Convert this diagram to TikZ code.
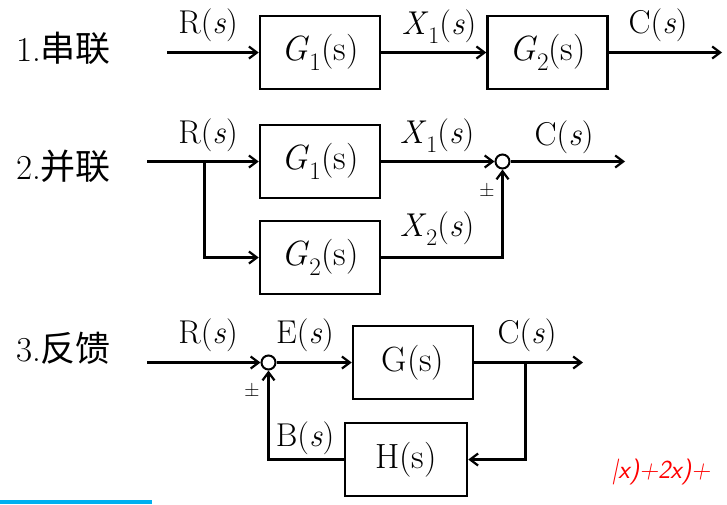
\documentclass[tikz,border=0pt]{standalone}
\usepackage{fontspec}
\newfontfamily\cjk{Noto Sans CJK SC}
\usetikzlibrary{arrows.meta}
\definecolor{barblue}{RGB}{0,176,240}
\newcommand{\sub}[1]{\raisebox{-0.28em}{\fontsize{0.72em}{0.8em}\selectfont #1}}

\begin{document}
\begin{tikzpicture}[x=1pt,y=-1pt,line width=2.2pt,
  >={Straight Barb[length=8pt,width=12pt]},
  blk/.style={draw,line width=2.5pt,minimum width=120pt,minimum height=73pt,inner sep=0pt,font=\fontsize{35}{37}\selectfont},
  sig/.style={inner sep=0pt,font=\fontsize{33}{35}\selectfont},
  sum/.style={draw,circle,line width=2pt,minimum size=14pt,inner sep=0pt},
  pm/.style={inner sep=0pt,font=\fontsize{21}{23}\selectfont},
  ttl/.style={anchor=west,inner sep=0pt,font=\fontsize{35}{37}\selectfont}]
  \useasboundingbox (0,0) rectangle (727,504);

  % 1. series
  \node[ttl] (T1) at (15,48) {1.{\cjk 串联}};
  \coordinate (A1) at (167,52.5);
  \node[blk] (G11) at (320,52.5) {\textit{G}\sub{1}(s)};
  \node[blk] (G12) at (547.5,52.5) {\textit{G}\sub{2}(s)};
  \coordinate (B1) at (722,52.5);
  \node[sig] (R1) at (208,25) {R(\textit{s})};
  \node[sig] (X11) at (439,27) {\textit{X}\sub{1}(\textit{s})};
  \node[sig] (C1) at (658,25) {C(\textit{s})};

  \path[->] (A1) edge (G11);
  \path[->] (G11) edge (G12);
  \path[->] (G12) edge (B1);

  % 2. parallel
  \node[ttl] (T2) at (15,166) {2.{\cjk 并联}};
  \coordinate (A2) at (147,161.5);
  \coordinate (D2) at (204.5,161.5);
  \node[blk] (G21) at (320,161.5) {\textit{G}\sub{1}(s)};
  \node[blk] (G22) at (320,257.5) {\textit{G}\sub{2}(s)};
  \node[sum] (S2) at (502.5,161.5) {};
  \coordinate (B2) at (625,161.5);
  \node[sig] (R2) at (208,135) {R(\textit{s})};
  \node[sig] (X21) at (437,136) {\textit{X}\sub{1}(\textit{s})};
  \node[sig] (X22) at (437,229) {\textit{X}\sub{2}(\textit{s})};
  \node[sig] (C2) at (564,137) {C(\textit{s})};
  \node[pm] (P2) at (487,190) {±};

  \path[->] (A2) edge (G21);
  \draw[->] (D2) |- (G22);
  \path[->] (G21) edge (S2);
  \draw[->] (G22) -| (S2);
  \path[->] (S2) edge (B2);

  % 3. feedback
  \node[ttl] (T3) at (15,348) {3.{\cjk 反馈}};
  \coordinate (A3) at (147,362.5);
  \node[sum] (S3) at (268.5,362.5) {};
  \node[blk] (G3) at (413,362.5) {G(s)};
  \coordinate (D3) at (525.5,362.5);
  \coordinate (B3) at (583,362.5);
  \node[blk,minimum width=122pt] (H3) at (406,459.5) {H(s)};
  \node[sig] (R3) at (208,335) {R(\textit{s})};
  \node[sig] (E3) at (305,335) {E(\textit{s})};
  \node[sig] (C3) at (527,335) {C(\textit{s})};
  \node[sig] (B3l) at (305,438) {B(\textit{s})};
  \node[pm] (P3) at (252,390) {±};

  \path[->] (A3) edge (S3);
  \path[->] (S3) edge (G3);
  \path[->] (G3) edge (B3);
  \draw[->] (D3) |- (H3);
  \draw[->] (H3) -| (S3);

  % screen marks
  \fill[barblue] (0,500) rectangle (152,504);
  \node[anchor=west,inner sep=0pt,text=red,font=\sffamily\itshape\fontsize{26}{28}\selectfont] (N) at (610,472) {|x)+2x)+};
\end{tikzpicture}
\end{document}
